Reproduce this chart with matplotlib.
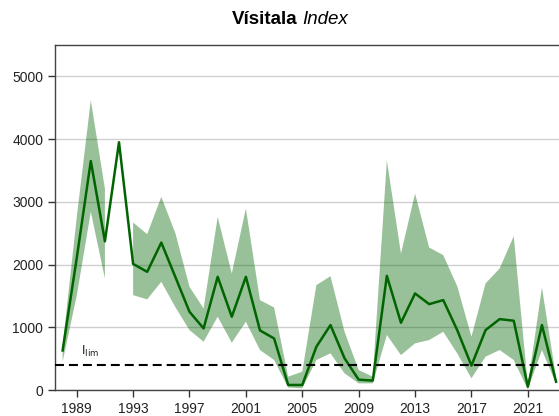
import matplotlib
matplotlib.use("Agg")
import matplotlib.pyplot as plt
import numpy as np

nan = float('nan')
years = list(range(1988, 2024))
index_vals = [630, 2100, 3650, 2370, 3950, 2010, 1884, 2350, 1800, 1247, 982, 1805,
              1168, 1805, 950, 822, 80, 80, 690, 1035, 505, 165, 150, 1820,
              1072, 1539, 1369, 1433, 950, 390, 955, 1130, 1104, 53, 1035, 133]
lower_vals = [450, 1500, 2840, 1778, nan, 1513, 1444, 1725, 1320, 955, 770, 1168,
              754, 1088, 637, 478, 40, 27, 478, 584, 265, 106, 106, 876,
              557, 743, 796, 929, 580, 186, 531, 637, 478, 10, 637, 100]
upper_vals = [700, 2750, 4620, 3211, nan, 2670, 2484, 3079, 2500, 1645, 1300, 2760,
              1858, 2893, 1433, 1316, 212, 292, 1672, 1815, 929, 318, 212, 3662,
              2176, 3132, 2272, 2150, 1650, 850, 1699, 1938, 2452, 80, 1635, 200]
i_lim = 400
x_ticks = list(range(1989, 2024, 4))
y_ticks = [0, 1000, 2000, 3000, 4000, 5000]

plt.rcParams['font.family'] = ['Liberation Sans', 'DejaVu Sans']

fig = plt.figure(figsize=(5.59, 4.16), dpi=100)
ax = fig.add_axes([55/559, 26/416, (559-55)/559, 345/416])

ax.fill_between(years, lower_vals, upper_vals, color='darkgreen', alpha=0.4,
                linewidth=0, zorder=2)
ax.plot(years, index_vals, color='darkgreen', lw=1.8, zorder=3)
ax.axhline(i_lim, color='black', lw=1.5, dashes=(4.3, 2.4), zorder=4)
ax.text(1989.3, i_lim + 90, r'I$_{\mathrm{lim}}$', fontsize=9, color='#222222',
        ha='left', va='bottom')

ax.set_xlim(1987.46, 2023.21)
ax.set_ylim(0, 5500)
ax.set_xticks(x_ticks)
ax.set_yticks(y_ticks)
ax.yaxis.grid(True, color='#d0d0d0', lw=1, zorder=0)
ax.set_axisbelow(True)
ax.tick_params(axis='both', direction='out', length=5, width=1,
               color='#333333', labelsize=10, labelcolor='#222222')
for s in ['left', 'bottom', 'top']:
    ax.spines[s].set_color('#444444')
    ax.spines[s].set_linewidth(1)
ax.spines['right'].set_visible(False)

fig.text(297/559, 1 - 19/416, 'Vísitala', fontsize=13.5, fontweight='bold',
         ha='right', va='center')
fig.text(302/559, 1 - 19/416, 'Index', fontsize=13.5, fontstyle='italic',
         ha='left', va='center')

fig.savefig('out.png', dpi=100)
